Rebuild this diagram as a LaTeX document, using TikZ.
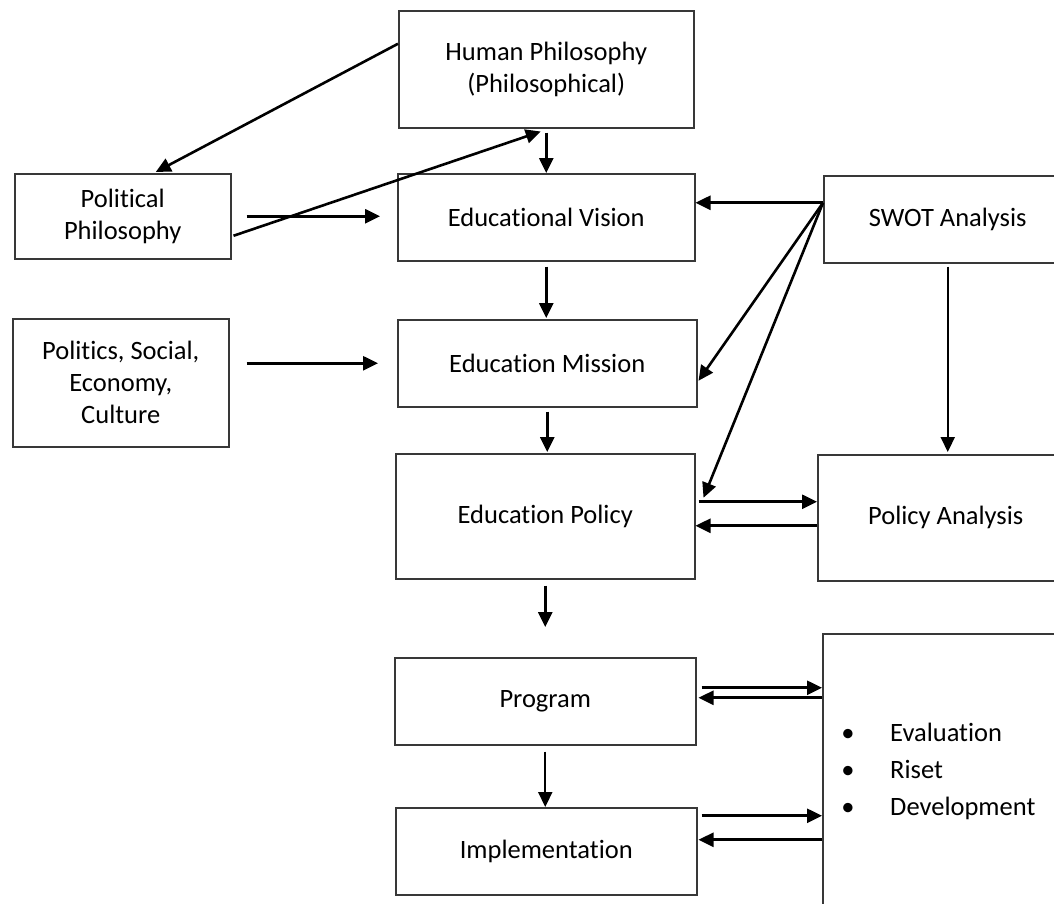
\documentclass[tikz,border=0pt]{standalone}
\usepackage{fontspec}
\setmainfont{Carlito}[Ligatures=NoCommon]
\usetikzlibrary{arrows.meta,calc}
\begin{document}
\begin{tikzpicture}[x=1pt,y=-1pt,
  box/.style={draw=black!78, line width=1.5pt, anchor=north west, inner sep=0pt,
    align=center, font=\fontsize{26.5}{32}\selectfont},
  txt/.style={inner sep=0pt, font=\fontsize{26.5}{32}\selectfont},
  arr/.style={line width=2.6pt, -{Triangle[length=15pt,width=14pt]}},
  thin arr/.style={line width=2.1pt, -{Triangle[length=15pt,width=14pt]}},
]
\useasboundingbox (0,0) rectangle (1054,903);
\clip (0,0) rectangle (1054,903);

% boxes
\node[box, minimum width=295pt, minimum height=117pt] (hp) at (398,10) {Human Philosophy\\(Philosophical)};
\node[box, minimum width=216pt, minimum height=85pt] (pp) at (14,173) {Political\\Philosophy};
\node[box, minimum width=297pt, minimum height=87pt] (ev) at (397,173) {Educational Vision};
\node[box, minimum width=248pt, minimum height=87pt] (swot) at (823,175) {SWOT Analysis};
\node[box, minimum width=216pt, minimum height=128pt] (pse) at (12,318) {Politics, Social,\\Economy,\\Culture};
\node[box, minimum width=299pt, minimum height=87pt] (em) at (397,319) {Education Mission};
\node[box, minimum width=299pt, minimum height=125pt] (ep) at (395,453) {Education Policy};
\node[box, minimum width=256pt, minimum height=126pt] (pa) at (817,454) {Policy Analysis};
\node[box, minimum width=301pt, minimum height=87pt] (prog) at (394,657) {Program};
\node[box, minimum width=301pt, minimum height=87pt] (impl) at (395,807) {Implementation};
\node[box, minimum width=260pt, minimum height=300pt] (erd) at (822,633) {};

% bullet list inside the right box
\node[txt, anchor=base] (b1) at (848,741) {\textbullet};
\node[txt, anchor=base] (b2) at (848,778) {\textbullet};
\node[txt, anchor=base] (b3) at (848,815) {\textbullet};
\node[txt, anchor=base west] (l1) at (890,741) {Evaluation};
\node[txt, anchor=base west] (l2) at (890,778) {Riset};
\node[txt, anchor=base west] (l3) at (890,815) {Development};

% philosophy links
\draw[arr] ([yshift=25.5pt]hp.west) -- ([xshift=33pt,yshift=1pt]pp.north);
\draw[arr] ([xshift=2pt,yshift=-19.5pt]pp.east) -- ([xshift=-5.5pt,yshift=-3pt]hp.south);
\draw[arr, shorten <=4pt] (ev.north |- hp.south) -- (ev.north);

% inputs from the left
\draw[arr, shorten <=15pt, shorten >=17pt] (pp.east) -- (pp.east -| ev.west);
\draw[arr, shorten <=17pt, shorten >=19pt] (em.west -| pse.east) -- (em.west);

% main column
\draw[arr, shorten <=5pt, shorten >=1pt] (ev.south) -- (ev.south |- em.north);
\draw[arr, shorten <=4pt, shorten >=1pt] (em.south) -- (em.south |- ep.north);
\draw[arr, shorten <=6pt, shorten >=30pt] (ep.south) -- (ep.south |- prog.north);
\draw[thin arr, shorten <=6pt] (prog.south) -- (prog.south |- impl.north);

% SWOT analysis
\coordinate (swo) at ([yshift=16.5pt]swot.west);
\draw[arr] (swo) -- (swo -| ev.east);
\draw[arr] (swo) -- ([xshift=1pt,yshift=-17.5pt]em.east);
\draw[arr] (swo) -- ([xshift=8pt,yshift=18.5pt]ep.east);
\draw[thin arr, shorten <=3pt, shorten >=2pt] (swot.south) -- (swot.south |- pa.north);

% policy analysis loop
\coordinate (e1) at ([xshift=3pt,yshift=14.5pt]ep.east);
\draw[arr] (e1) -- (e1 -| pa.west);
\coordinate (e2) at ([yshift=-8pt]pa.west);
\draw[arr] (e2) -- (e2 -| ep.east);

% evaluation loops
\coordinate (p1) at ([xshift=5pt,yshift=13.5pt]prog.east);
\draw[arr] (p1) -- (p1 -| erd.west);
\coordinate (p2) at ([xshift=2pt,yshift=3.5pt]prog.east);
\draw[arr] (p2 -| erd.west) -- (p2);
\coordinate (i1) at ([xshift=4pt,yshift=35.5pt]impl.east);
\draw[arr] (i1) -- (i1 -| erd.west);
\coordinate (i2) at ([xshift=1pt,yshift=11.5pt]impl.east);
\draw[arr] (i2 -| erd.west) -- (i2);
\end{tikzpicture}
\end{document}
